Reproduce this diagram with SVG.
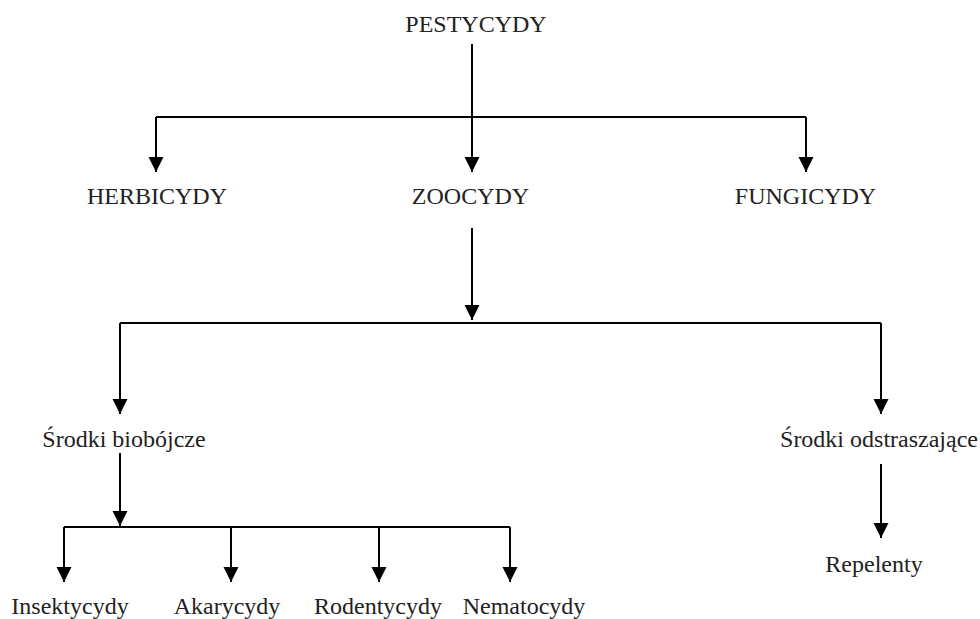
<svg xmlns="http://www.w3.org/2000/svg" width="980" height="619" viewBox="0 0 980 619">
<style>
.c line{stroke:#000;stroke-width:2;fill:none}
</style>
<defs>
<marker id="ah" markerUnits="userSpaceOnUse" markerWidth="16" markerHeight="16" refX="15" refY="7.5" orient="auto">
<path d="M0,0 L15,7.5 L0,15 z" fill="#000"/>
</marker>
</defs>
<rect width="980" height="619" fill="#fff"/>
<g class="c" id="connectors">
<line x1="472" y1="44" x2="472" y2="117"/>
<line x1="156" y1="117" x2="806" y2="117"/>
<line x1="156" y1="117" x2="156" y2="172" marker-end="url(#ah)"/>
<line x1="472" y1="117" x2="472" y2="172" marker-end="url(#ah)"/>
<line x1="806" y1="117" x2="806" y2="172" marker-end="url(#ah)"/>
<line x1="472" y1="228" x2="472" y2="320" marker-end="url(#ah)"/>
<line x1="120" y1="323" x2="881" y2="323"/>
<line x1="120" y1="323" x2="120" y2="414" marker-end="url(#ah)"/>
<line x1="881" y1="323" x2="881" y2="414" marker-end="url(#ah)"/>
<line x1="120" y1="453" x2="120" y2="526" marker-end="url(#ah)"/>
<line x1="64" y1="527" x2="510" y2="527"/>
<line x1="64" y1="527" x2="64" y2="582" marker-end="url(#ah)"/>
<line x1="231" y1="527" x2="231" y2="582" marker-end="url(#ah)"/>
<line x1="379" y1="527" x2="379" y2="582" marker-end="url(#ah)"/>
<line x1="510" y1="527" x2="510" y2="582" marker-end="url(#ah)"/>
<line x1="881" y1="464" x2="881" y2="538" marker-end="url(#ah)"/>
</g>
<g font-family="'Liberation Serif', 'DejaVu Serif', serif" font-size="24" fill="#222" text-anchor="middle">
<g id="pestycydy"><text x="476" y="32">PESTYCYDY</text></g>
<g id="herbicydy"><text x="157" y="204">HERBICYDY</text></g>
<g id="zoocydy"><text x="470.5" y="204">ZOOCYDY</text></g>
<g id="fungicydy"><text x="805.5" y="204">FUNGICYDY</text></g>
<g id="biobojcze"><text x="124" y="447">Środki biobójcze</text></g>
<g id="odstraszajace"><text x="879" y="447">Środki odstraszające</text></g>
<g id="repelenty"><text x="874" y="572">Repelenty</text></g>
<g id="insektycydy"><text x="70" y="614">Insektycydy</text></g>
<g id="akarycydy"><text x="227" y="614">Akarycydy</text></g>
<g id="rodentycydy"><text x="378" y="614">Rodentycydy</text></g>
<g id="nematocydy"><text x="524" y="614">Nematocydy</text></g>
</g>
</svg>
